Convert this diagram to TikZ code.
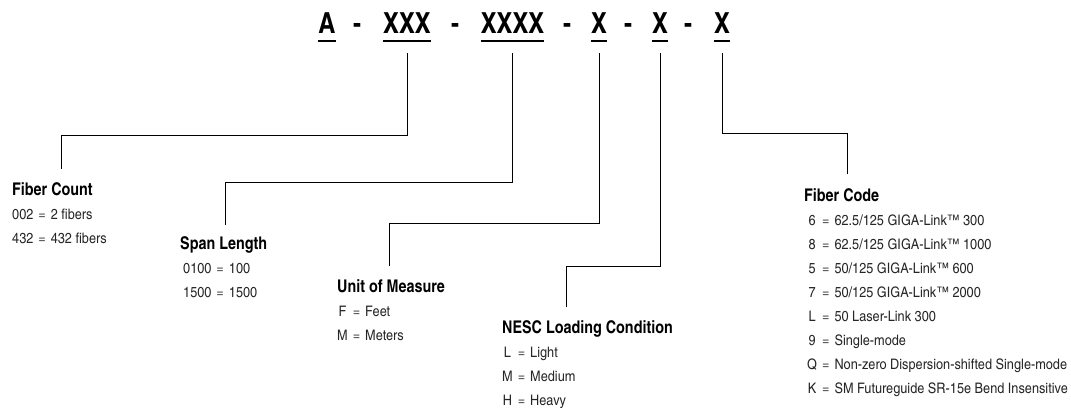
\documentclass[tikz,border=0pt]{standalone}
\usepackage{fontspec}
\setmainfont{texgyreheroscn}[Extension=.otf, UprightFont=*-regular, BoldFont=*-bold]
\newfontfamily\codefont{texgyreheroscn-regular.otf}[FakeStretch=1.07]
\usetikzlibrary{positioning}

\begin{document}
\begin{tikzpicture}[x=1pt, y=-1pt,
    part/.style={font=\fontsize{29}{29}\bfseries\selectfont, inner sep=0pt, anchor=base},
    head/.style={font=\fontsize{17.5}{20}\bfseries\selectfont, inner sep=0pt, anchor=base west},
    items/.style={font=\codefont\fontsize{14.5}{24}\selectfont, text=black!85, inner sep=0pt, anchor=base west},
    leader/.style={line width=0.9pt},
    uline/.style={line width=1.3pt}]
    \path[use as bounding box, fill=white] (0,0) rectangle (1071,407);

    % Part number
    \foreach \n/\x/\t in {a/327/A, cnt/407/XXX, len/512.5/XXXX, unit/599/X, load/660/X, code/722/X}{
    \node[part] (\n) at (\x,33) {\t};
    \draw[uline] ([yshift=-8pt]\n.base west) -- ([yshift=-8pt]\n.base east);
    }
    \foreach \k/\x in {1/357, 2/455, 3/567, 4/628, 5/688}
    \node[part] (d\k) at (\x,33) {-};

    % Headings
    \node[head] (fcount) at (12,195) {Fiber Count};
    \node[head] (span) at (180,249) {Span Length};
    \node[head] (measure) at (337,292) {Unit of Measure};
    \node[head] (nesc) at (502,333) {NESC Loading Condition};
    \node[head] (fcode) at (804,201) {Fiber Code};

    % Codes
    \node[items] (fcount-list) at ([shift={(0pt,-24pt)}]fcount.base west)
    {\begin{tabular}[t]{@{}c@{\hspace{5pt}=\hspace{5pt}}l@{}}002 & 2 fibers\\ 432 & 432 fibers\end{tabular}};
    \node[items] (span-list) at ([shift={(3pt,-24pt)}]span.base west)
    {\begin{tabular}[t]{@{}c@{\hspace{5pt}=\hspace{5pt}}l@{}}0100 & 100\\ 1500 & 1500\end{tabular}};
    \node[items] (measure-list) at ([shift={(0pt,-24pt)}]measure.base west)
    {\begin{tabular}[t]{@{}c@{\hspace{5pt}=\hspace{5pt}}l@{}}F & Feet\\ M & Meters\end{tabular}};
    \node[items] (nesc-list) at ([shift={(0pt,-24pt)}]nesc.base west)
    {\begin{tabular}[t]{@{}c@{\hspace{5pt}=\hspace{5pt}}l@{}}L & Light\\ M & Medium\\ H & Heavy\end{tabular}};
    \node[items] (fcode-list) at ([shift={(3pt,-24pt)}]fcode.base west)
    {\begin{tabular}[t]{@{}c@{\hspace{5pt}=\hspace{5pt}}l@{}}
    6 & 62.5/125 GIGA-Link™ 300\\
    8 & 62.5/125 GIGA-Link™ 1000\\
    5 & 50/125 GIGA-Link™ 600\\
    7 & 50/125 GIGA-Link™ 2000\\
    L & 50 Laser-Link 300\\
    9 & Single-mode\\
    Q & Non-zero Dispersion-shifted Single-mode\\
    K & SM Futureguide SR-15e Bend Insensitive
    \end{tabular}};

    % Leader lines
    \coordinate (fcount-in) at (61,169);
    \coordinate (span-in) at (225,225);
    \coordinate (measure-in) at (389,266);
    \coordinate (nesc-in) at (566,307);
    \coordinate (fcode-in) at (847,174);
    \foreach \n/\h/\y in {cnt/fcount/135, len/span/182, unit/measure/223, load/nesc/266, code/fcode/133}
    \draw[leader] ([yshift=-20pt]\n.base) -- ++(0,{\y-53}) -| (\h-in);
\end{tikzpicture}
\end{document}
